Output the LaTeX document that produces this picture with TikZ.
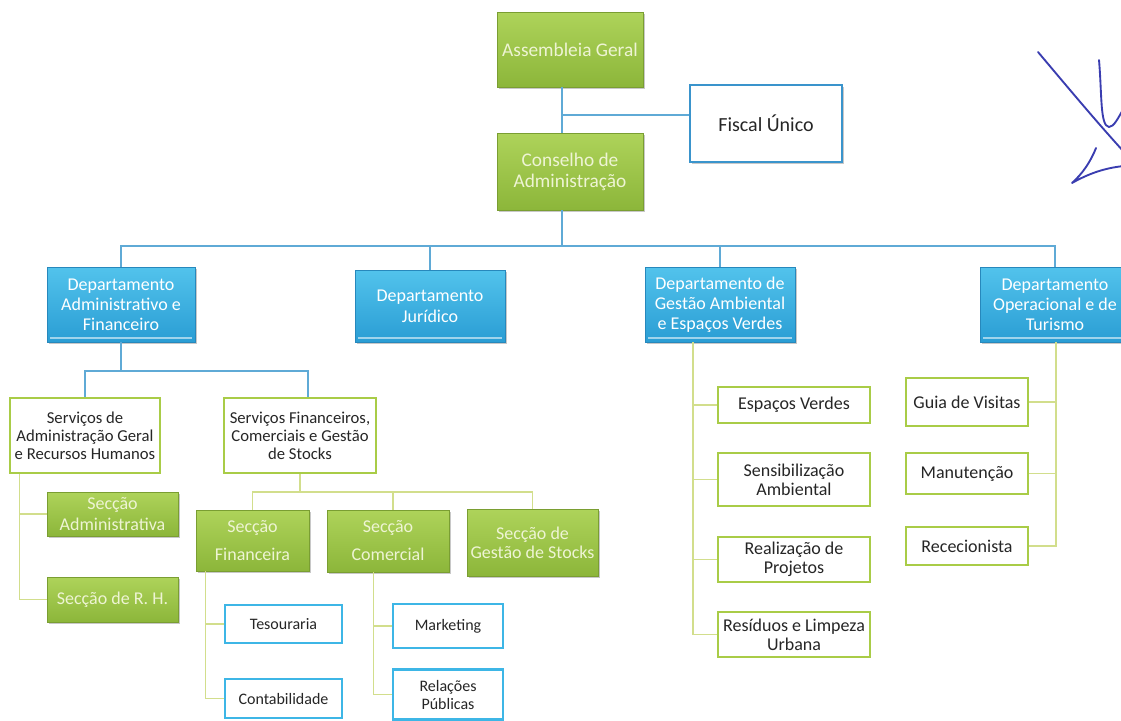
\documentclass[tikz,border=0pt]{standalone}
\usepackage{fontspec}
\setmainfont{Carlito}
\usetikzlibrary{calc,shadows}
\definecolor{gtop}{HTML}{AED35A}
\definecolor{gbot}{HTML}{8CB63A}
\definecolor{gborder}{HTML}{7A9E32}
\definecolor{gtext}{HTML}{EEF4D4}
\definecolor{btop}{HTML}{52C3EC}
\definecolor{bbot}{HTML}{2A9DD4}
\definecolor{bborder}{HTML}{2788BC}
\definecolor{wgreen}{HTML}{A9CC47}
\definecolor{wblue}{HTML}{3DB6E6}
\definecolor{lblue}{HTML}{5FAAD6}
\definecolor{lgreen}{HTML}{D2DE8C}
\definecolor{fblue}{HTML}{3A94CC}
\definecolor{sigblue}{HTML}{3A3DB0}
\definecolor{txt}{HTML}{262626}
\begin{document}
\begin{tikzpicture}[x=0.75pt,y=-0.75pt,
  base/.style={align=center, inner sep=0pt, font=\fontsize{13.5}{15}\selectfont},
  small/.style={font=\fontsize{12}{13.5}\selectfont},
  sz/.style 2 args={minimum width={#1*0.75pt}, minimum height={#2*0.75pt}},
  shad/.style={drop shadow={shadow xshift=1.2pt, shadow yshift=-1.2pt, opacity=0.3, fill=black!70}},
  gloss/.style={path picture={\draw[white, opacity=0.55, line width=0.9pt]
      ([xshift=2.5pt,yshift=3pt]path picture bounding box.south west) --
      ([xshift=-2.5pt,yshift=3pt]path picture bounding box.south east);}},
  gbox/.style={base, draw=gborder, line width=0.6pt, top color=gtop, bottom color=gbot, text=gtext, shad},
  bbox/.style={base, draw=bborder, line width=0.6pt, top color=btop, bottom color=bbot, text=white, shad, gloss},
  wgbox/.style={base, draw=wgreen, line width=2.2pt, fill=white, text=txt},
  wbbox/.style={base, draw=wblue, line width=2.2pt, fill=white, text=txt},
  bline/.style={draw=lblue, line width=1.1pt},
  gline/.style={draw=lgreen, line width=1.1pt},
  sig/.style={draw=sigblue, line width=1.4pt, line cap=round, line join=round}
]
\useasboundingbox (0,0) rectangle (1121,721);
\clip (0,0) rectangle (1121,721);
\fill[white] (0,0) rectangle (1121,721);

% ---- top level
\node[gbox, sz={146}{75}, font=\fontsize{14.5}{16}\selectfont] (ag) at (570,49.5) {Assembleia Geral};
\node[base, sz={152}{77}, draw=fblue, line width=2pt, fill=white, text=txt, font=\fontsize{15}{17}\selectfont, shad] (fu) at (766,123.5) {Fiscal Único};
\node[gbox, sz={146}{77}, font=\fontsize{14.5}{15.75}\selectfont] (ca) at (570,171.5) {Conselho de\\Administração};

% ---- departments
\node[bbox, sz={148}{75}] (da) at (121,304.5) {Departamento\\Administrativo e\\Financeiro};
\node[bbox, sz={150}{72}, font=\fontsize{13.5}{16}\selectfont] (dj) at (430,306) {Departamento\\Jurídico};
\node[bbox, sz={150}{75}] (dg) at (720,304.5) {Departamento de\\Gestão Ambiental\\e Espaços Verdes};
\node[bbox, sz={150}{75}] (do) at (1055,304.5) {};
\node[base, text=white] (dot) at (do) {Departamento\\Operacional e de\\Turismo};

% ---- services
\node[wgbox, sz={150}{75}, font=\fontsize{12.5}{13.5}\selectfont] (sag) at (85,435.5) {Serviços de\\Administração Geral\\e Recursos Humanos};
\node[wgbox, sz={152}{75}, font=\fontsize{12.5}{13.5}\selectfont] (sfc) at (300,435.5) {Serviços Financeiros,\\Comerciais e Gestão\\de Stocks};

% ---- sections
\node[gbox, sz={131}{44}, font=\fontsize{13.5}{15.75}\selectfont] (sadm) at (112.5,514) {Secção\\Administrativa};
\node[gbox, sz={131}{45}] (srh) at (112.5,599.5) {Secção de R. H.};
\node[gbox, sz={113}{61}, font=\fontsize{13.5}{21}\selectfont] (sfin) at (252.5,540.5) {Secção\\Financeira};
\node[gbox, sz={122}{62}, font=\fontsize{13.5}{21}\selectfont] (scom) at (388,541) {Secção\\Comercial};
\node[gbox, sz={131}{67}, font=\fontsize{13.5}{14}\selectfont] (sstk) at (532.5,542.5) {Secção de\\Gestão de Stocks};

\node[wbbox, small, sz={117}{38}] (tes) at (283.5,624) {Tesouraria};
\node[wbbox, small, sz={117}{39}] (cont) at (283.5,698.5) {Contabilidade};
\node[wbbox, small, sz={110}{44}] (mkt) at (448,626) {Marketing};
\node[wbbox, small, sz={110}{50}, font=\fontsize{12}{13.5}\selectfont] (rp) at (448,694.5) {Relações\\Públicas};

% ---- environment
\node[wgbox, sz={152}{36}] (ev) at (794,405) {Espaços Verdes};
\node[wgbox, sz={152}{53}, font=\fontsize{13.5}{14.25}\selectfont] (sa) at (794,479.5) {Sensibilização\\Ambiental};
\node[wgbox, sz={152}{45}, font=\fontsize{13.5}{14.25}\selectfont] (rpj) at (794,559.5) {Realização de\\Projetos};
\node[wgbox, sz={152}{45}, font=\fontsize{13.5}{14.25}\selectfont] (rlu) at (794,634.5) {Resíduos e Limpeza\\Urbana};

% ---- operations
\node[wgbox, sz={122}{48}] (gv) at (967,402) {Guia de Visitas};
\node[wgbox, sz={122}{41}] (man) at (967,473.5) {Manutenção};
\node[wgbox, sz={122}{38}] (rec) at (967,546) {Rececionista};

% ---- connectors
\coordinate (jf) at (562,115);
\coordinate (bus1) at (562,246);
\coordinate (bus2) at (122,371);
\coordinate (bus3) at (299,492);
\draw[bline] ([xshift=-6pt]ag.south) -- ([xshift=-6pt]ca.north);
\draw[bline] (jf) -- (jf -| fu.west);
\draw[bline] ([xshift=-6pt]ca.south) -- (bus1);
\draw[bline] (da.north) -- (da.north |- bus1) -- (do.north |- bus1) -- (do.north);
\draw[bline] (dj.north) -- (dj.north |- bus1);
\draw[bline] (dg.north) -- (dg.north |- bus1);
\draw[bline] (da.south) -- (da.south |- bus2);
\draw[bline] (sag.north) -- (sag.north |- bus2) -- ([xshift=6pt]sfc.north |- bus2) -- ([xshift=6pt]sfc.north);

\coordinate (s1) at ($(sag.south west)+(11,0)$);
\draw[gline] (s1) |- (srh.west);
\draw[gline] (s1) |- (sadm.west);

\draw[gline] (sfc.south) -- (sfc.south |- bus3);
\draw[gline] (sfin.north) -- (sfin.north |- bus3) -- (sstk.north |- bus3) -- (sstk.north);
\draw[gline] ([xshift=3.75pt]scom.north) -- ([xshift=3.75pt]scom.north |- bus3);

\coordinate (s2) at ($(sfin.south west)+(10,0)$);
\draw[gline] (s2) |- (cont.west);
\draw[gline] (s2) |- (tes.west);
\coordinate (s3) at ($(scom.south west)+(47,0)$);
\draw[gline] (s3) |- (rp.west);
\draw[gline] (s3) |- (mkt.west);

\coordinate (s4) at ($(dg.south)+(-27,0)$);
\draw[gline] (s4) |- (rlu.west);
\draw[gline] (s4) |- (rpj.west);
\draw[gline] (s4) |- (sa.west);
\draw[gline] (s4) |- (ev.west);

\coordinate (s5) at ($(do.south)+(1,0)$);
\draw[gline] (s5) |- (rec.east);
\draw[gline] (s5) |- (man.east);
\draw[gline] (s5) |- (gv.east);

% ---- handwritten mark
\draw[sig] (1038,52) .. controls (1070,90) and (1095,120) .. (1124,152);
\draw[sig] (1099,60) .. controls (1102,95) and (1100,126) .. (1109,127) .. controls (1114,127) and (1118,118) .. (1124,108);
\draw[sig] (1096,148) .. controls (1090,163) and (1082,174) .. (1072,183) .. controls (1088,174) and (1104,168) .. (1124,166);
\end{tikzpicture}
\end{document}
